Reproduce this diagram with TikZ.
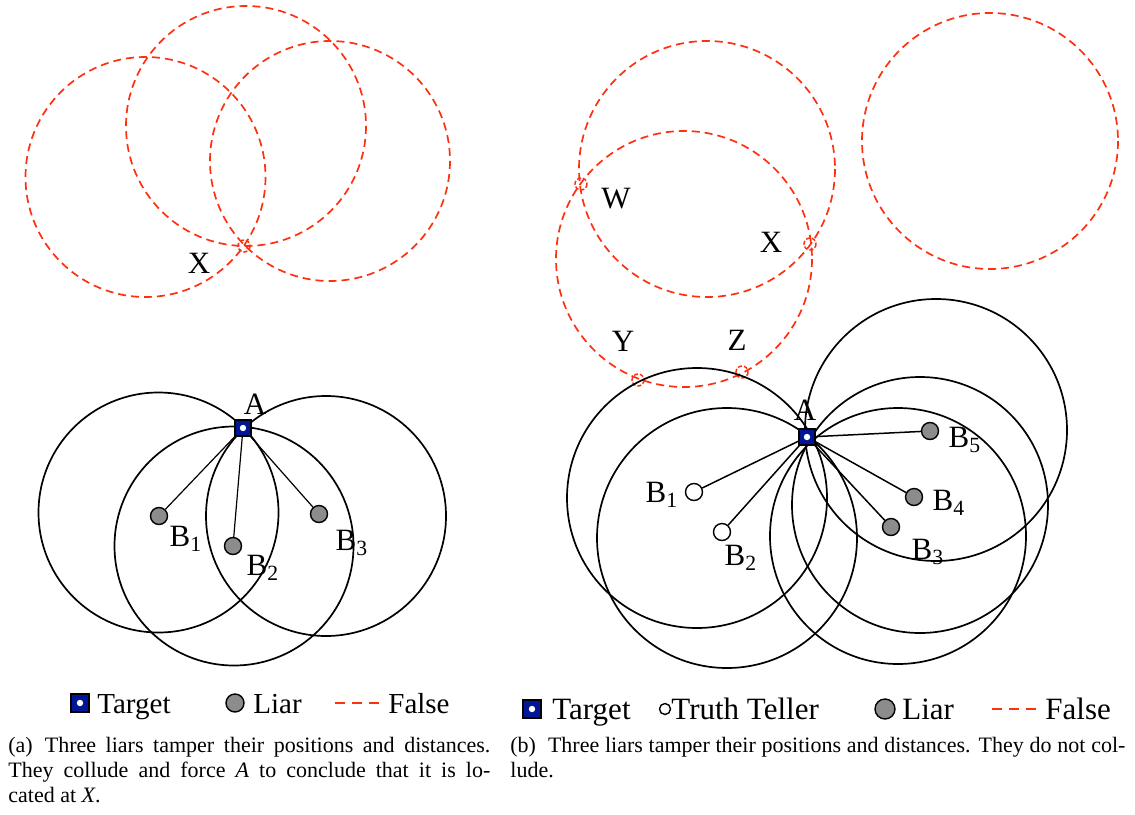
\documentclass[tikz,border=0pt]{standalone}
\usepackage{fontspec}
\setmainfont{Liberation Serif}
\usepackage{tikz}
\usetikzlibrary{calc,positioning}

\definecolor{tblue}{RGB}{0,22,150}
\definecolor{lgray}{RGB}{140,140,140}
\definecolor{fred}{RGB}{255,48,16}

\begin{document}
\begin{tikzpicture}[x=0.5pt,y=-0.5pt,
    ring/.style={line width=0.85pt},
    fake/.style={draw=fred, line width=0.85pt, dash pattern=on 4pt off 2.5pt},
    hitmark/.style={draw=fred, line width=0.75pt, dash pattern=on 2pt off 1pt},
    target/.style={draw, line width=0.7pt, fill=tblue, minimum size=8pt, inner sep=0pt,
        path picture={\fill[white] (path picture bounding box.center) circle (1.6pt);}},
    liar/.style={circle, draw, line width=0.7pt, fill=lgray, minimum size=8.5pt, inner sep=0pt},
    honest/.style={circle, draw, line width=0.7pt, fill=white, minimum size=8.5pt, inner sep=0pt},
    lbl/.style={font=\fontsize{15.5}{18}\selectfont, inner sep=0pt},
    leg/.style={font=\fontsize{14.5}{17}\selectfont, inner sep=0pt, anchor=base west},
    subcap/.style={font=\fontsize{11}{12.5}\selectfont, inner sep=0pt, align=justify, anchor=base west}]
    \useasboundingbox (0,0) rectangle (1135,814);

    % (a) false circles
    \draw[fake] (145.5,177) circle[radius=120];
    \draw[fake] (246,126) circle[radius=120];
    \draw[fake] (330,161) circle[radius=120];
    \draw[hitmark] (244,246) circle[radius=6];
    \node[lbl] (aX) at (199,263) {X};

    % (a) measured circles
    \draw[ring] (158.5,512.5) circle[radius=120];
    \draw[ring] (234,546) circle[radius=119.5];
    \draw[ring] (326,516) circle[radius=120];

    \node[target] (aA) at (243,428) {};
    \node[liar] (aB1) at (159,516) {};
    \node[liar] (aB2) at (233,546) {};
    \node[liar] (aB3) at (319,514) {};
    \draw[line width=0.6pt] (aA) -- (aB1);
    \draw[line width=0.6pt] (aA) -- (aB2);
    \draw[line width=0.6pt] (aA) -- (aB3);
    \node[lbl] at (255,404) {A};
    \node[lbl] at (186,539) {B\textsubscript{1}};
    \node[lbl] at (263,568) {B\textsubscript{2}};
    \node[lbl] at (352,543) {B\textsubscript{3}};

    % (b) false circles
    \draw[fake] (684,259) circle[radius=128];
    \draw[fake] (707,169) circle[radius=128];
    \draw[fake] (990,141) circle[radius=128];
    \draw[hitmark] (581,184) circle[radius=6];
    \draw[hitmark] (810,244) circle[radius=6];
    \draw[hitmark] (638,380) circle[radius=6];
    \draw[hitmark] (742,372) circle[radius=6];
    \node[lbl] (bW) at (616,199) {W};
    \node[lbl] (bX) at (771,242) {X};
    \node[lbl] (bY) at (623,341) {Y};
    \node[lbl] (bZ) at (737,340) {Z};

    % (b) measured circles
    \draw[ring] (697,498) circle[radius=130];
    \draw[ring] (727,538) circle[radius=130];
    \draw[ring] (898,536) circle[radius=128];
    \draw[ring] (920,505) circle[radius=128];
    \draw[ring] (936,430) circle[radius=131];

    \node[target] (bA) at (807,437) {};
    \node[honest] (bB1) at (694,492) {};
    \node[honest] (bB2) at (722,532) {};
    \node[liar] (bB3) at (891,527) {};
    \node[liar] (bB4) at (914,497) {};
    \node[liar] (bB5) at (930,431) {};
    \foreach \b in {bB1,bB2,bB3,bB4,bB5}
        \draw[line width=0.75pt] (bA) -- (\b);
    \node[lbl] at (805,410) {A};
    \node[lbl] at (662,495) {B\textsubscript{1}};
    \node[lbl] at (741,558) {B\textsubscript{2}};
    \node[lbl] at (928,552) {B\textsubscript{3}};
    \node[lbl] at (949,503) {B\textsubscript{4}};
    \node[lbl] at (965,440) {B\textsubscript{5}};

    % legends
    \node[target, minimum size=9pt] (lgA) at (80,703) {};
    \node[leg] at (97,713) {Target};
    \node[liar, minimum size=9pt] (lgL) at (235,703) {};
    \node[leg] at (253,713) {Liar};
    \draw[draw=fred, line width=0.9pt, dash pattern=on 5pt off 3.5pt] (335,703) -- (381,703);
    \node[leg] at (388,713) {False};

    \node[target, minimum size=9pt] (rgA) at (532,709) {};
    \node[leg, font=\fontsize{15.5}{18}\selectfont] at (552,719) {Target};
    \node[honest, minimum size=5.5pt] (rgT) at (665,709) {};
    \node[leg, font=\fontsize{15.5}{18}\selectfont] at (671,719) {Truth Teller};
    \node[liar, minimum size=10pt] (rgL) at (885,709) {};
    \node[leg, font=\fontsize{15.5}{18}\selectfont] at (902,719) {Liar};
    \draw[draw=fred, line width=0.9pt, dash pattern=on 5pt off 3.5pt] (992,709) -- (1040,709);
    \node[leg, font=\fontsize{15.5}{18}\selectfont] at (1045,719) {False};

    % captions
    \node[subcap, text width=241pt] (capa) at (8,752) {(a)\hspace{6pt}Three liars tamper their positions and distances.\linebreak
        They collude and force \textit{A} to conclude that it is lo-\linebreak cated at \textit{X}.};
    \node[subcap, text width=307.5pt] (capb) at (510,752) {(b)\hspace{6pt}Three liars tamper their positions and distances. They do not col-\linebreak lude.};
\end{tikzpicture}
\end{document}
